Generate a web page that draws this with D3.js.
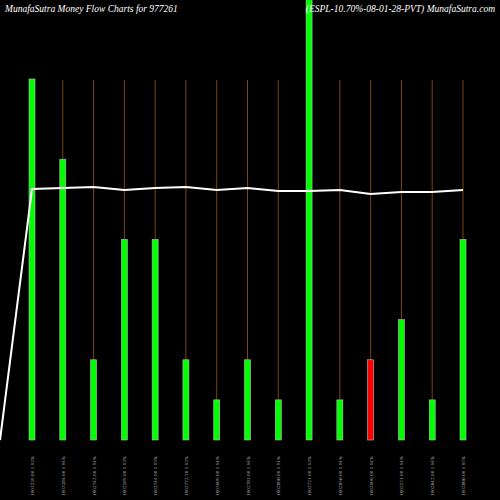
<!DOCTYPE html>
<html><head><meta charset="utf-8">
<script src="https://cdn.jsdelivr.net/npm/d3@7"></script>
<style>body{margin:0;background:#000}</style></head>
<body><svg id="c" width="500" height="500"></svg>
<script>
const labels = ["1003239.00 1.92%","1003284.00 1.94%","1002742.00 1.94%","1002589.00 1.93%","1002744.00 1.93%","1002772.70 1.92%","1003009.00 1.94%","1002783.00 1.94%","1002806.00 1.91%","1002721.00 1.93%","1002856.00 1.94%","1002400.00 1.94%","1002571.00 1.94%","1002642.00 1.94%","1002866.00 1.95%"];
const flows = [9, 7, 2, 5, 5, 2, 1, 2, 1, 12, 1, 2, 3, 1, 5];
const colors = ["g","g","g","g","g","g","g","g","g","g","g","r","g","g","g"];
const price = [189,188,187,190,188,187,190,188,191,191,190,194,192,192,190];

const svg = d3.select("#c");
svg.append("rect").attr("width",500).attr("height",500).attr("fill","#000");
const x = d3.scalePoint().domain(d3.range(flows.length)).range([32,463]);
const y = d3.scaleLinear().domain([0,9]).range([440,79]);
const py = d3.scaleLinear().domain([0,440]).range([0,440]);

svg.selectAll("line.v").data(flows).enter().append("line")
 .attr("x1",(d,i)=>x(i)).attr("x2",(d,i)=>x(i)).attr("y1",80).attr("y2",440)
 .attr("stroke","#7a4510").attr("stroke-width",1);
svg.selectAll("rect.b").data(flows).enter().append("rect")
 .attr("x",(d,i)=>x(i)-3).attr("width",6)
 .attr("y",d=>Math.max(-5,y(d))).attr("height",d=>440-Math.max(-5,y(d)))
 .attr("fill",(d,i)=>colors[i]==="r"?"#ff0000":"#00ff00")
 .attr("stroke","#bbb").attr("stroke-width",0.6);
const pts = [[0,440]].concat(price.map((p,i)=>[x(i),py(p)]));
svg.append("path").attr("d",d3.line()(pts)).attr("fill","none").attr("stroke","#fff").attr("stroke-width",2);
svg.selectAll("text.l").data(labels).enter().append("text")
 .attr("transform",(d,i)=>`translate(${x(i)+2},496) rotate(-90)`)
 .attr("font-size",4.2).attr("fill","#aaa").attr("font-family","DejaVu Serif").text(d=>d);
svg.append("text").attr("x",5).attr("y",12).attr("fill","#fff").attr("font-size",9.5)
 .attr("font-style","italic").attr("font-family","Liberation Serif").text("MunafaSutra  Money Flow  Charts for 977261");
svg.append("text").attr("x",495).attr("y",12).attr("text-anchor","end").attr("fill","#fff").attr("font-size",9.5)
 .attr("font-style","italic").attr("font-family","Liberation Serif").text("(ESPL-10.70%-08-01-28-PVT) MunafaSutra.com");
</script></body></html>
